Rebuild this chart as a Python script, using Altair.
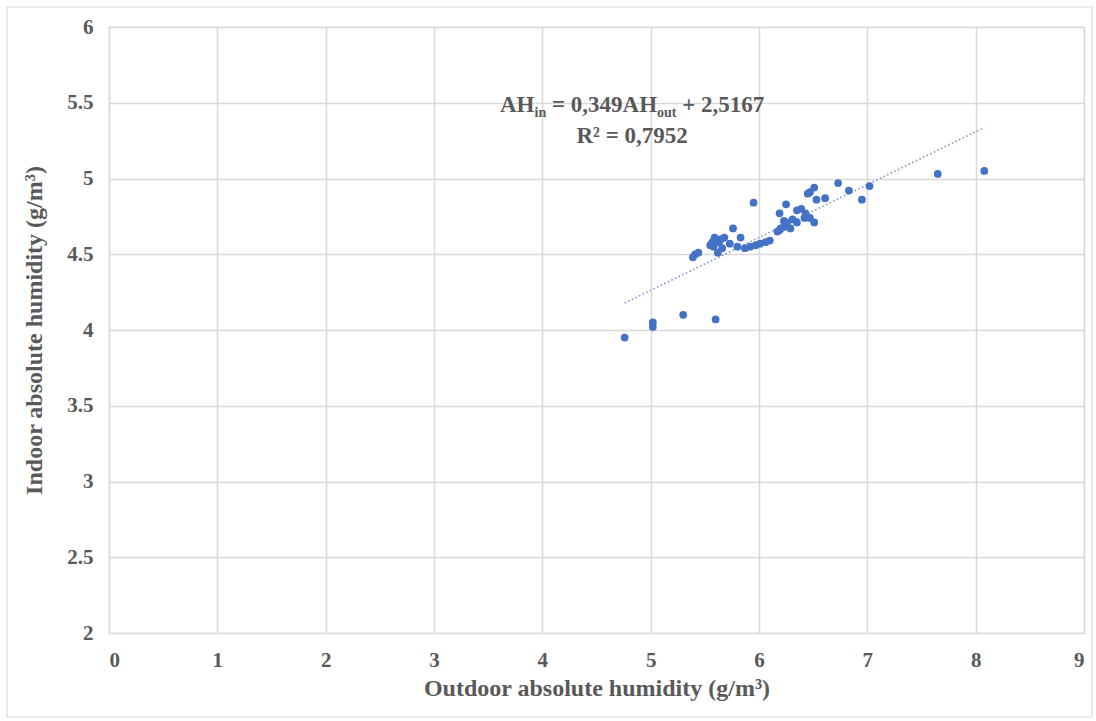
import altair as alt
import pandas as pd

# Measured absolute humidity pairs (g/m3)
outdoor_ah = [4.76, 5.02, 5.02, 5.30, 5.60, 5.39, 5.41, 5.44, 5.55, 5.59,
              5.63, 5.66, 5.62, 5.68, 5.73, 5.76, 5.83, 5.80, 5.87, 5.92,
              5.97, 5.95, 6.01, 6.06, 6.10, 6.17, 6.19, 6.20, 6.19, 6.23,
              6.23, 6.25, 6.26, 6.29, 6.31, 6.35, 6.35, 6.39, 6.42, 6.43,
              6.45, 6.47, 6.47, 6.51, 6.51, 6.53, 6.61, 6.73, 6.83, 6.95,
              7.02, 7.65, 8.08, 5.57, 5.65, 5.58]
indoor_ah = [3.95, 4.05, 4.02, 4.10, 4.07, 4.48, 4.50, 4.51, 4.56, 4.61,
             4.58, 4.54, 4.51, 4.61, 4.57, 4.67, 4.61, 4.55, 4.54, 4.55,
             4.56, 4.84, 4.57, 4.58, 4.59, 4.65, 4.66, 4.67, 4.77, 4.68,
             4.72, 4.83, 4.71, 4.67, 4.73, 4.71, 4.79, 4.80, 4.74, 4.77,
             4.90, 4.91, 4.74, 4.94, 4.71, 4.86, 4.87, 4.97, 4.92, 4.86,
             4.95, 5.03, 5.05, 4.58, 4.60, 4.55]

# Linear trend as reported on the chart
slope = 0.349
intercept = 2.5167
r_squared = 0.7952

x_ticks = [0, 1, 2, 3, 4, 5, 6, 7, 8, 9]
y_ticks = [2, 2.5, 3, 3.5, 4, 4.5, 5, 5.5, 6]

FONT = "Liberation Serif"
GREY = "#595959"
BLUE = "#4472C4"

points = pd.DataFrame({"out": outdoor_ah, "in": indoor_ah})
x_lo, x_hi = min(outdoor_ah), max(outdoor_ah)
trend = pd.DataFrame({"out": [x_lo, x_hi],
                      "in": [slope * x_lo + intercept, slope * x_hi + intercept]})

x_scale = alt.Scale(domain=[0, 9], nice=False, zero=False)
y_scale = alt.Scale(domain=[2, 6], nice=False, zero=False)

x_axis = alt.Axis(values=x_ticks, title="Outdoor absolute humidity  (g/m³)",
                  titleFontSize=24, titlePadding=6, labelFontSize=21,
                  labelPadding=16, format="~g",
                  labelFont=FONT, titleFont=FONT)
y_axis = alt.Axis(values=y_ticks, title="Indoor absolute humidity  (g/m³)",
                  titleFontSize=24, titlePadding=20, labelFontSize=21,
                  labelPadding=16, format="~g",
                  labelFont=FONT, titleFont=FONT)

scatter = alt.Chart(points).mark_circle(size=60, color=BLUE, opacity=1).encode(
    x=alt.X("out:Q", scale=x_scale, axis=x_axis),
    y=alt.Y("in:Q", scale=y_scale, axis=y_axis),
)

trend_line = alt.Chart(trend).mark_line(
    color="#7f93c9", strokeWidth=1.6, strokeDash=[1.5, 2.5]
).encode(x=alt.X("out:Q", scale=x_scale), y=alt.Y("in:Q", scale=y_scale))

# Equation label built from pieces so the subscripts sit lower and smaller
EQ = 23
SUB = 14
w_bold = {"A": .722, "H": .778, "i": .278, "n": .556, "o": .5, "u": .556,
          "t": .333, "=": .570, "+": .570, " ": .25, ",": .25, "0": .5,
          "1": .5, "2": .5, "3": .5, "4": .5, "5": .5, "6": .5, "7": .5,
          "9": .5}


def width(s, size):
    return sum(w_bold.get(c, .5) for c in s) * size


pieces = [("AH", EQ, 0), ("in", SUB, 5), ("= 0,349AH", EQ, 0),
          ("out", SUB, 5), ("+ 2,5167", EQ, 0)]
gaps = [0, 0, EQ * .25, 0, EQ * .25]
x0, base1 = 391, 85
rows = []
cur = x0
for (txt, size, drop), gap in zip(pieces, gaps):
    cur += gap
    rows.append({"t": txt, "px": cur, "py": base1 + drop, "fs": size})
    cur += width(txt, size)
line_center = (x0 + cur) / 2
eq_df = pd.DataFrame(rows)

eq_line1 = alt.Chart(eq_df).mark_text(
    font=FONT, fontWeight="bold", color=GREY, align="left", baseline="alphabetic"
).encode(
    text="t:N",
    x=alt.X("px:Q", scale=None),
    y=alt.Y("py:Q", scale=None),
    size=alt.Size("fs:Q", scale=None, legend=None),
)

eq_line2 = alt.Chart(pd.DataFrame({"t": [f"R² = {r_squared}".replace(".", ",")]})).mark_text(
    font=FONT, fontWeight="bold", color=GREY, fontSize=EQ, align="center",
    baseline="alphabetic"
).encode(text="t:N", x=alt.value(line_center), y=alt.value(116))

# light frame around the whole chart
frame = alt.Chart(pd.DataFrame({"k": [0]})).mark_rect(
    fill="transparent", stroke="#d9d9d9", strokeWidth=1.2
).encode(x=alt.value(-102), x2=alt.value(983), y=alt.value(-20), y2=alt.value(690))

chart = alt.layer(frame, trend_line, scatter, eq_line1, eq_line2).properties(
    width=975, height=606,
    background="white",
    autosize=alt.AutoSizeParams(type="none"),
    padding={"left": 109, "top": 27, "right": 12, "bottom": 88},
).configure_view(stroke="#d9d9d9", strokeWidth=1.2).configure_axis(
    labelFont=FONT, titleFont=FONT, labelFontWeight="bold", titleFontWeight="bold",
    labelColor=GREY, titleColor=GREY, gridColor="#d9d9d9", gridWidth=1.5,
    domain=False, ticks=False,
)

chart.save("out.html", embed_options={"renderer": "svg", "actions": False})
